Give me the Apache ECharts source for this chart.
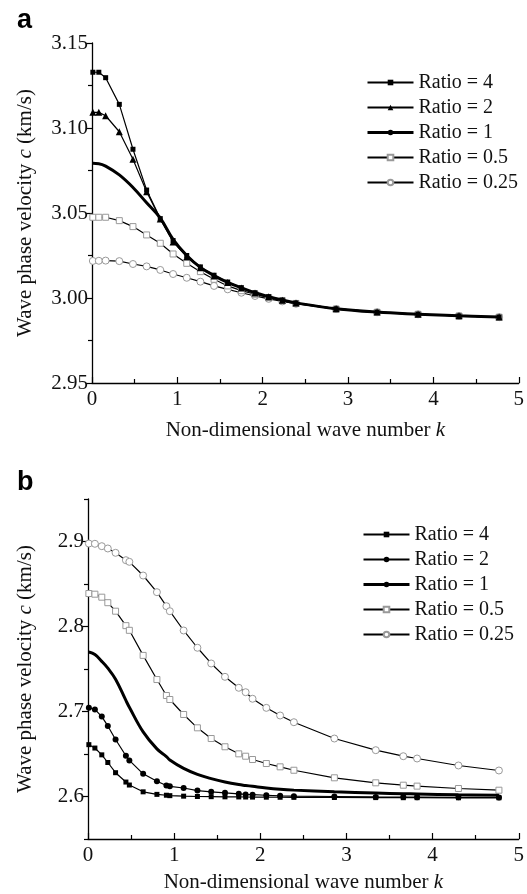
<!DOCTYPE html>
<html>
<head>
<meta charset="utf-8">
<script src="https://cdn.jsdelivr.net/npm/echarts@6/dist/echarts.min.js"></script>
<style>
html,body{margin:0;padding:0;background:#fff;}
#chart{width:527px;height:894px;}
</style>
</head>
<body>
<div id="chart"></div>
<script>
// ---------- Data ----------
const seriesNames = ['Ratio = 4', 'Ratio = 2', 'Ratio = 1', 'Ratio = 0.5', 'Ratio = 0.25'];

// Panel a
const kA = [0.01,0.08,0.16,0.32,0.48,0.64,0.80,0.95,1.11,1.27,1.43,1.59,1.75,1.91,2.07,2.23,2.39,2.86,3.34,3.82,4.30,4.77];
const aRatio4 = [3.1328,3.1328,3.1296,3.1139,3.0875,3.0635,3.0467,3.0338,3.0250,3.0183,3.0134,3.0094,3.0061,3.0031,3.0008,2.9988,2.9971,2.9937,2.9917,2.9905,2.9895,2.9888];
const aRatio2 = [3.1092,3.1092,3.1072,3.0978,3.0816,3.0625,3.0465,3.0330,3.0243,3.0178,3.0130,3.0091,3.0059,3.0030,3.0007,2.9987,2.9970,2.9937,2.9917,2.9905,2.9895,2.9888];
const aRatio1 = [3.0792,3.0790,3.0776,3.0724,3.0650,3.0560,3.0470,3.0345,3.0250,3.0180,3.0132,3.0092,3.0060,3.0031,3.0008,2.9988,2.9971,2.9937,2.9917,2.9905,2.9895,2.9888];
const aRatio05 = [3.0475,3.0475,3.0475,3.0455,3.0420,3.0371,3.0322,3.0259,3.0204,3.0155,3.0110,3.0071,3.0043,3.0022,3.0002,2.9984,2.9968,2.9935,2.9916,2.9904,2.9894,2.9887];
const aRatio025 = [3.0218,3.0219,3.0220,3.0217,3.0200,3.0186,3.0165,3.0141,3.0119,3.0096,3.0071,3.0051,3.0031,3.0012,2.9995,2.9980,2.9966,2.9935,2.9916,2.9904,2.9894,2.9887];

// Panel b
const kB = [0.01,0.08,0.16,0.23,0.32,0.44,0.48,0.64,0.80,0.91,0.95,1.11,1.27,1.43,1.59,1.75,1.83,1.91,2.07,2.23,2.39,2.86,3.34,3.66,3.82,4.30,4.77];
const bRatio4 = [2.661,2.657,2.649,2.640,2.628,2.617,2.6135,2.6055,2.6025,2.6015,2.601,2.6004,2.600,2.5998,2.5996,2.5995,2.5994,2.5993,2.5992,2.5991,2.599,2.5988,2.5987,2.5986,2.5986,2.5985,2.5985];
const bRatio2 = [2.7045,2.7025,2.694,2.683,2.667,2.648,2.6425,2.6267,2.618,2.613,2.612,2.610,2.607,2.6055,2.6043,2.6031,2.6025,2.6022,2.6015,2.6008,2.6004,2.600,2.5995,2.5993,2.5992,2.599,2.5988];
const bRatio1 = [2.770,2.767,2.759,2.751,2.738,2.713,2.705,2.676,2.656,2.647,2.643,2.633,2.626,2.621,2.617,2.614,2.613,2.612,2.610,2.6085,2.6075,2.6055,2.604,2.6032,2.603,2.602,2.6015];
const bRatio05 = [2.8388,2.8380,2.8345,2.828,2.818,2.801,2.7955,2.766,2.7376,2.7188,2.7141,2.6965,2.6808,2.6682,2.6585,2.6502,2.6474,2.6435,2.6388,2.6349,2.6309,2.622,2.6161,2.6133,2.6122,2.6094,2.6074];
const bRatio025 = [2.8976,2.8973,2.8945,2.8918,2.8867,2.878,2.8761,2.86,2.8404,2.8239,2.818,2.7953,2.775,2.7565,2.7408,2.7279,2.7227,2.715,2.7043,2.6953,2.6874,2.6682,2.6545,2.6474,2.6447,2.6365,2.6306];

// Tick values
const xTicks = [0,1,2,3,4,5];
const yTicksA = [2.95,3.00,3.05,3.10,3.15];
const yMinorA = [2.975,3.025,3.075,3.125];
const yTicksB = [2.6,2.7,2.8,2.9];
const yMinorB = [2.55,2.65,2.75,2.85,2.95];

// ---------- Chart ----------
const SERIF = '"Liberation Serif","Times New Roman",serif';
const pairs = (ks, vs) => ks.map((k, i) => [k, vs[i]]);
const chart = echarts.init(document.getElementById('chart'), null, {renderer: 'canvas'});

const xAxisBase = (gi) => ({
  gridIndex: gi, type: 'value', min: 0, max: 5, interval: 1,
  axisLine: {show: true, onZero: false, lineStyle: {color: '#000', width: 1.3}},
  axisTick: {show: true, inside: true, length: 6, lineStyle: {color: '#000', width: 1.2}},
  minorTick: {show: true, splitNumber: 2, length: 4, lineStyle: {color: '#000', width: 1.2}},
  splitLine: {show: false},
  axisLabel: {color: '#111', fontFamily: SERIF, fontSize: 21, margin: 6,
    customValues: xTicks},
  name: '{t|Non-dimensional wave number }{i|k}',
  nameLocation: 'middle',
  nameTextStyle: {rich: {
    t: {fontFamily: SERIF, fontSize: 21, color: '#111'},
    i: {fontFamily: SERIF, fontSize: 21, color: '#111', fontStyle: 'italic'}
  }}
});

const yName = '{t|Wave phase velocity }{i|c}{t| (km/s)}';
const yNameStyle = {rich: {
  t: {fontFamily: SERIF, fontSize: 21, color: '#111'},
  i: {fontFamily: SERIF, fontSize: 21, color: '#111', fontStyle: 'italic'}
}};

const legendBase = {
  orient: 'vertical', padding: 0, itemWidth: 46, itemHeight: 7, itemGap: 4,
  formatter: n => n.slice(2),
  textStyle: {fontFamily: SERIF, fontSize: 20, color: '#111', lineHeight: 21},
  selectedMode: false
};
const legendData = (prefix) => seriesNames.map((n, i) =>
  i === 2 ? {name: prefix + n, lineStyle: {width: 3}} : {name: prefix + n});

const option = {
  backgroundColor: '#fff',
  animation: false,
  title: [
    {text: 'a', left: 12, top: 2, textStyle: {fontFamily: '"Liberation Sans",Arial,sans-serif', fontWeight: 'bold', fontSize: 27, color: '#000'}},
    {text: 'b', left: 12, top: 464, textStyle: {fontFamily: '"Liberation Sans",Arial,sans-serif', fontWeight: 'bold', fontSize: 27, color: '#000'}}
  ],
  legend: [
    Object.assign({}, legendBase, {left: 366, top: 72, data: legendData('a:')}),
    Object.assign({}, legendBase, {left: 362, top: 524, data: legendData('b:')})
  ],
  grid: [
    {left: 92, top: 43, width: 430, height: 340},
    {left: 88, top: 499, width: 431, height: 342}
  ],
  xAxis: [
    Object.assign(xAxisBase(0), {nameGap: 37}),
    Object.assign(xAxisBase(1), {nameGap: 33})
  ],
  yAxis: [
    {
      gridIndex: 0, type: 'value', min: 2.95, max: 3.15, interval: 0.05,
      axisLine: {show: true, onZero: false, lineStyle: {color: '#000', width: 1.3}},
      axisTick: {show: true, inside: false, length: 6, lineStyle: {color: '#000', width: 1.2}, customValues: yTicksA},
      splitLine: {show: false},
      axisLabel: {color: '#111', fontFamily: SERIF, fontSize: 21, margin: 4,
        customValues: yTicksA, formatter: v => v.toFixed(2)},
      name: yName, nameLocation: 'middle', nameGap: 56, nameTextStyle: yNameStyle
    },
    {
      gridIndex: 0, type: 'value', min: 2.95, max: 3.15,
      axisLine: {show: false}, splitLine: {show: false},
      axisLabel: {show: false},
      axisTick: {show: true, inside: true, length: 4, lineStyle: {color: '#000', width: 1.2}, customValues: yMinorA}
    },
    {
      gridIndex: 1, type: 'value', min: 2.55, max: 2.95,
      axisLine: {show: true, onZero: false, lineStyle: {color: '#000', width: 1.3}},
      axisTick: {show: true, inside: false, length: 6, lineStyle: {color: '#000', width: 1.2}, customValues: yTicksB},
      splitLine: {show: false},
      axisLabel: {color: '#111', fontFamily: SERIF, fontSize: 21, margin: 4,
        customValues: yTicksB, formatter: v => v.toFixed(1)},
      name: yName, nameLocation: 'middle', nameGap: 52, nameTextStyle: yNameStyle
    },
    {
      gridIndex: 1, type: 'value', min: 2.55, max: 2.95,
      axisLine: {show: false}, splitLine: {show: false},
      axisLabel: {show: false},
      axisTick: {show: true, inside: true, length: 4, lineStyle: {color: '#000', width: 1.2}, customValues: yMinorB}
    }
  ],
  series: []
};

const filledSq = {symbol: 'rect', symbolSize: 5, itemStyle: {color: '#000'}};
const hollowSq = {symbol: 'rect', symbolSize: 6, itemStyle: {color: '#fff', borderColor: '#999', borderWidth: 1}};
const hollowCi = {symbol: 'circle', symbolSize: 7, itemStyle: {color: '#fff', borderColor: '#999', borderWidth: 1}};
const tri = {symbol: 'triangle', symbolSize: 7, itemStyle: {color: '#000'}};
const dot = {symbol: 'circle', symbolSize: 6, itemStyle: {color: '#000'}};
const noSym = {symbol: 'none', smooth: 0.4, itemStyle: {color: '#000'}};

function addSeries(prefix, gi, ks, vals, styles, widths) {
  vals.forEach((v, i) => {
    option.series.push(Object.assign({
      name: prefix + seriesNames[i], type: 'line',
      xAxisIndex: gi, yAxisIndex: gi * 2,
      data: pairs(ks, v),
      lineStyle: {color: '#000', width: widths[i]},
      showAllSymbol: true, z: 10 - i
    }, styles[i]));
  });
}
addSeries('a:', 0, kA, [aRatio4, aRatio2, aRatio1, aRatio05, aRatio025],
  [filledSq, tri, noSym, hollowSq, hollowCi], [1.2, 1.2, 3, 1.2, 1.2]);
addSeries('b:', 1, kB, [bRatio4, bRatio2, bRatio1, bRatio05, bRatio025],
  [filledSq, dot, noSym, hollowSq, hollowCi], [1.2, 1.2, 3, 1.2, 1.2]);

chart.setOption(option);
</script>
</body>
</html>
